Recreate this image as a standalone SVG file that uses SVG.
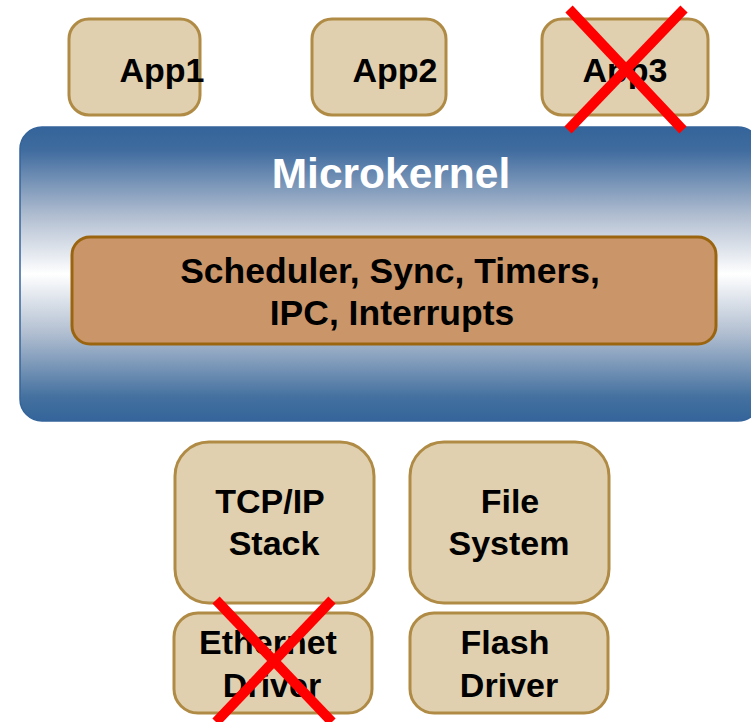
<svg xmlns="http://www.w3.org/2000/svg" width="751" height="722" viewBox="0 0 751 722">
  <style>
    .box { fill: #e0d0af; stroke: #b08b45; stroke-width: 3; }
    .core { fill: #ca9669; stroke: #9b650f; stroke-width: 3; }
    .lbl { font-family: "Liberation Sans", Arial, sans-serif; font-weight: bold; font-size: 34px; fill: #000; text-anchor: middle; }
    .cross { stroke: #ff0000; stroke-width: 10; stroke-linecap: butt; }
  </style>
  <defs>
    <linearGradient id="kernelFill" x1="0" y1="0" x2="0" y2="1">
      <stop offset="0" stop-color="#34649a"/>
      <stop offset="0.08" stop-color="#406c9f"/>
      <stop offset="0.3" stop-color="#b0bdd0"/>
      <stop offset="0.5" stop-color="#ffffff"/>
      <stop offset="0.7" stop-color="#b2bfd1"/>
      <stop offset="0.92" stop-color="#43709f"/>
      <stop offset="1" stop-color="#34649a"/>
    </linearGradient>
  </defs>

  <rect width="751" height="722" fill="#ffffff"/>

  <!-- applications -->
  <g id="app1">
    <rect class="box" x="69" y="19" width="131" height="96" rx="20"/>
    <text class="lbl" x="162" y="82">App1</text>
  </g>
  <g id="app2">
    <rect class="box" x="312" y="19" width="134" height="96" rx="20"/>
    <text class="lbl" x="395" y="82">App2</text>
  </g>
  <g id="app3">
    <rect class="box" x="542" y="19" width="166" height="96" rx="20"/>
    <text class="lbl" x="625" y="82">App3</text>
  </g>

  <!-- kernel -->
  <g id="microkernel">
    <rect x="20" y="127" width="740" height="294" rx="22" fill="url(#kernelFill)" stroke="#34649a" stroke-width="1.5"/>
    <text class="lbl" x="391" y="188" style="font-size:42.5px; fill:#ffffff">Microkernel</text>
  </g>
  <g id="kernel-services">
    <rect class="core" x="72" y="237" width="644" height="107" rx="18"/>
    <text class="lbl" x="390" y="283" style="font-size:35.5px">Scheduler, Sync, Timers,</text>
    <text class="lbl" x="392" y="325" style="font-size:35.5px">IPC, Interrupts</text>
  </g>

  <!-- user-space servers -->
  <g id="tcpip">
    <rect class="box" x="175" y="442" width="199" height="161" rx="34"/>
    <text class="lbl" x="270" y="513">TCP/IP</text>
    <text class="lbl" x="274" y="555">Stack</text>
  </g>
  <g id="filesystem">
    <rect class="box" x="410" y="442" width="199" height="161" rx="34"/>
    <text class="lbl" x="510" y="513">File</text>
    <text class="lbl" x="509" y="555">System</text>
  </g>
  <g id="ethernet-driver">
    <rect class="box" x="174" y="613" width="198" height="100" rx="24"/>
    <text class="lbl" x="268" y="654">Ethernet</text>
    <text class="lbl" x="272" y="697">Driver</text>
  </g>
  <g id="flash-driver">
    <rect class="box" x="410" y="613" width="198" height="100" rx="24"/>
    <text class="lbl" x="505" y="654">Flash</text>
    <text class="lbl" x="509" y="697">Driver</text>
  </g>

  <!-- failed components -->
  <g id="failures">
    <line class="cross" x1="569" y1="9" x2="683" y2="130"/>
    <line class="cross" x1="684" y1="9" x2="568" y2="130"/>
    <line class="cross" x1="216" y1="600" x2="332" y2="722"/>
    <line class="cross" x1="332" y1="600" x2="216" y2="722"/>
  </g>
</svg>
